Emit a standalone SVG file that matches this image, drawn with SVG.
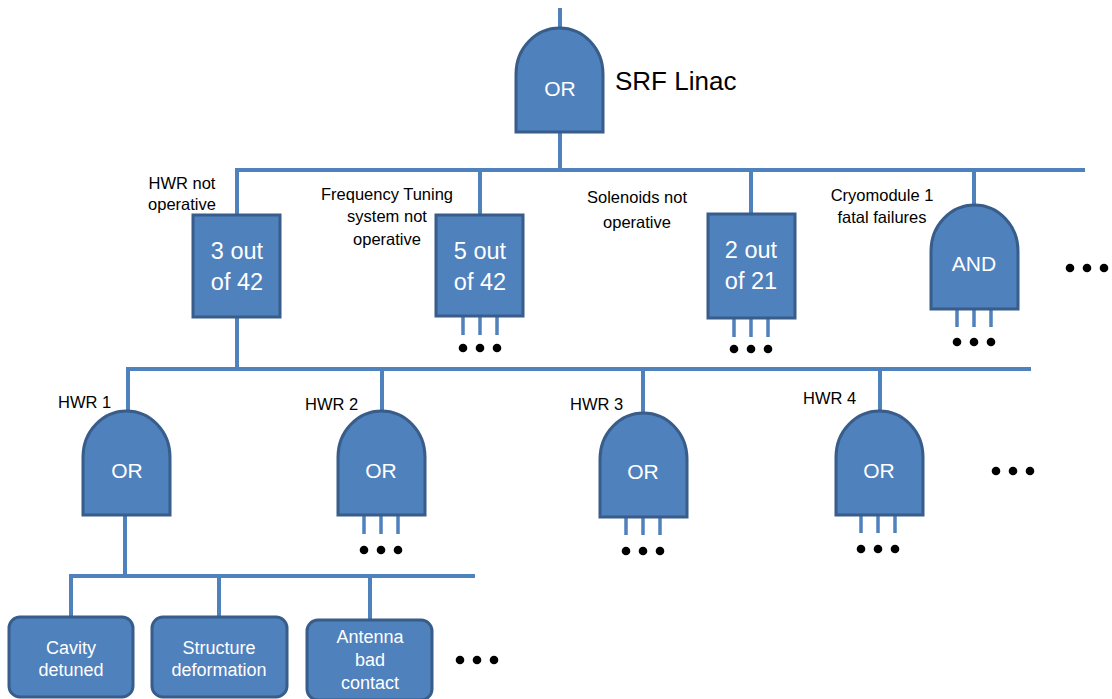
<svg xmlns="http://www.w3.org/2000/svg" xmlns:xlink="http://www.w3.org/1999/xlink" width="1112" height="699" viewBox="0 0 1112 699">
<style>
.wire{stroke:#4f81bd;stroke-width:4;fill:none}
.stub{stroke:#4f81bd;stroke-width:3.5;fill:none}
.node{fill:#4f81bd;stroke:#385d8a;stroke-width:3}
.in{font-family:"Liberation Sans",Arial,sans-serif;fill:#ffffff;text-anchor:middle}
.lbl{font-family:"Liberation Sans",Arial,sans-serif;fill:#000000;font-size:16.5px}
.dot{fill:#000000}
</style>
<defs>
<path id="gate" d="M0,104 V46 C0,20 20,0 43.5,0 C67,0 87,20 87,46 V104 Z"/>
<g id="dots"><circle cx="-17" cy="0" r="4.3"/><circle cx="0" cy="0" r="4.3"/><circle cx="17" cy="0" r="4.3"/></g>
<g id="stubs"><line x1="-17" y1="0" x2="-17" y2="19"/><line x1="0" y1="0" x2="0" y2="19"/><line x1="17" y1="0" x2="17" y2="19"/></g>
</defs>
<rect width="1112" height="699" fill="#ffffff"/>
<g id="connectors">
<line class="wire" x1="560" y1="8" x2="560" y2="30"/>
<line class="wire" x1="560" y1="131" x2="560" y2="170"/>
<line class="wire" x1="235" y1="170" x2="1085" y2="170"/>
<line class="wire" x1="237" y1="170" x2="237" y2="215"/>
<line class="wire" x1="480" y1="170" x2="480" y2="215"/>
<line class="wire" x1="751" y1="170" x2="751" y2="214"/>
<line class="wire" x1="974" y1="170" x2="974" y2="207"/>
<line class="wire" x1="237" y1="317" x2="237" y2="369"/>
<line class="wire" x1="126" y1="369" x2="1031" y2="369"/>
<line class="wire" x1="128" y1="369" x2="128" y2="412"/>
<line class="wire" x1="382" y1="369" x2="382" y2="412"/>
<line class="wire" x1="643" y1="369" x2="643" y2="414"/>
<line class="wire" x1="880" y1="369" x2="880" y2="412"/>
<line class="wire" x1="125" y1="514" x2="125" y2="576"/>
<line class="wire" x1="69" y1="576" x2="475" y2="576"/>
<line class="wire" x1="71" y1="576" x2="71" y2="617"/>
<line class="wire" x1="219" y1="576" x2="219" y2="617"/>
<line class="wire" x1="370" y1="576" x2="370" y2="620"/>
<g class="stub">
<use xlink:href="#stubs" x="480" y="316"/>
<use xlink:href="#stubs" x="751" y="318"/>
<use xlink:href="#stubs" x="974" y="308"/>
<use xlink:href="#stubs" x="381" y="515"/>
<use xlink:href="#stubs" x="643" y="516"/>
<use xlink:href="#stubs" x="878" y="514"/>
</g>
</g>
<g id="top-or">
<use xlink:href="#gate" class="node" x="516" y="28"/>
<text class="in" x="560" y="96" font-size="21">OR</text>
<text x="615" y="90" font-family="Liberation Sans,Arial,sans-serif" font-size="26" fill="#000">SRF Linac</text>
</g>
<g id="hwr-not-operative">
<rect class="node" x="193" y="215" width="87" height="102"/>
<text class="in" x="237" y="259" font-size="23.5">3 out</text>
<text class="in" x="237" y="290" font-size="23.5">of 42</text>
<text class="lbl" x="182" y="189" text-anchor="middle">HWR not</text>
<text class="lbl" x="182" y="210" text-anchor="middle">operative</text>
</g>
<g id="frequency-tuning">
<rect class="node" x="436" y="215" width="87" height="101"/>
<text class="in" x="480" y="259" font-size="23.5">5 out</text>
<text class="in" x="480" y="290" font-size="23.5">of 42</text>
<text class="lbl" x="387" y="200" text-anchor="middle" font-size="17.5">Frequency Tuning</text>
<text class="lbl" x="387" y="222" text-anchor="middle" font-size="17.5">system not</text>
<text class="lbl" x="387" y="245" text-anchor="middle" font-size="17.5">operative</text>
<use xlink:href="#dots" class="dot" x="480" y="348"/>
</g>
<g id="solenoids">
<rect class="node" x="708" y="214" width="87" height="104"/>
<text class="in" x="751" y="258" font-size="23.5">2 out</text>
<text class="in" x="751" y="289" font-size="23.5">of 21</text>
<text class="lbl" x="637" y="203" text-anchor="middle" font-size="17.5">Solenoids not</text>
<text class="lbl" x="637" y="228" text-anchor="middle" font-size="17.5">operative</text>
<use xlink:href="#dots" class="dot" x="751" y="349"/>
</g>
<g id="cryomodule">
<use xlink:href="#gate" class="node" x="931" y="205"/>
<text class="in" x="974" y="271" font-size="21">AND</text>
<text class="lbl" x="882" y="201" text-anchor="middle">Cryomodule 1</text>
<text class="lbl" x="882" y="223" text-anchor="middle">fatal failures</text>
<use xlink:href="#dots" class="dot" x="1087" y="268"/>
<use xlink:href="#dots" class="dot" x="974" y="342"/>
</g>
<g id="hwr1">
<use xlink:href="#gate" class="node" x="83" y="411"/>
<text class="in" x="127" y="478" font-size="21">OR</text>
<text class="lbl" x="58" y="408">HWR 1</text>
</g>
<g id="hwr2">
<use xlink:href="#gate" class="node" x="338" y="411"/>
<text class="in" x="381" y="478" font-size="21">OR</text>
<text class="lbl" x="305" y="410">HWR 2</text>
<use xlink:href="#dots" class="dot" x="381" y="550"/>
</g>
<g id="hwr3">
<use xlink:href="#gate" class="node" x="600" y="413"/>
<text class="in" x="643" y="479" font-size="21">OR</text>
<text class="lbl" x="570" y="410">HWR 3</text>
<use xlink:href="#dots" class="dot" x="643" y="551"/>
</g>
<g id="hwr4">
<use xlink:href="#gate" class="node" x="836" y="411"/>
<text class="in" x="879" y="478" font-size="21">OR</text>
<text class="lbl" x="803" y="404">HWR 4</text>
<use xlink:href="#dots" class="dot" x="878" y="549"/>
<use xlink:href="#dots" class="dot" x="1013" y="471"/>
</g>
<g id="cavity-detuned">
<rect class="node" x="9" y="617" width="124" height="80" rx="11"/>
<text class="in" x="71" y="654" font-size="18">Cavity</text>
<text class="in" x="71" y="676" font-size="18">detuned</text>
</g>
<g id="structure-deformation">
<rect class="node" x="152" y="617" width="135" height="80" rx="11"/>
<text class="in" x="219" y="654" font-size="18">Structure</text>
<text class="in" x="219" y="676" font-size="18">deformation</text>
</g>
<g id="antenna-bad-contact">
<rect class="node" x="307" y="620" width="125" height="80" rx="11"/>
<text class="in" x="370" y="643" font-size="18">Antenna</text>
<text class="in" x="370" y="666" font-size="18">bad</text>
<text class="in" x="370" y="689" font-size="18">contact</text>
<use xlink:href="#dots" class="dot" x="477" y="660"/>
</g>
</svg>
